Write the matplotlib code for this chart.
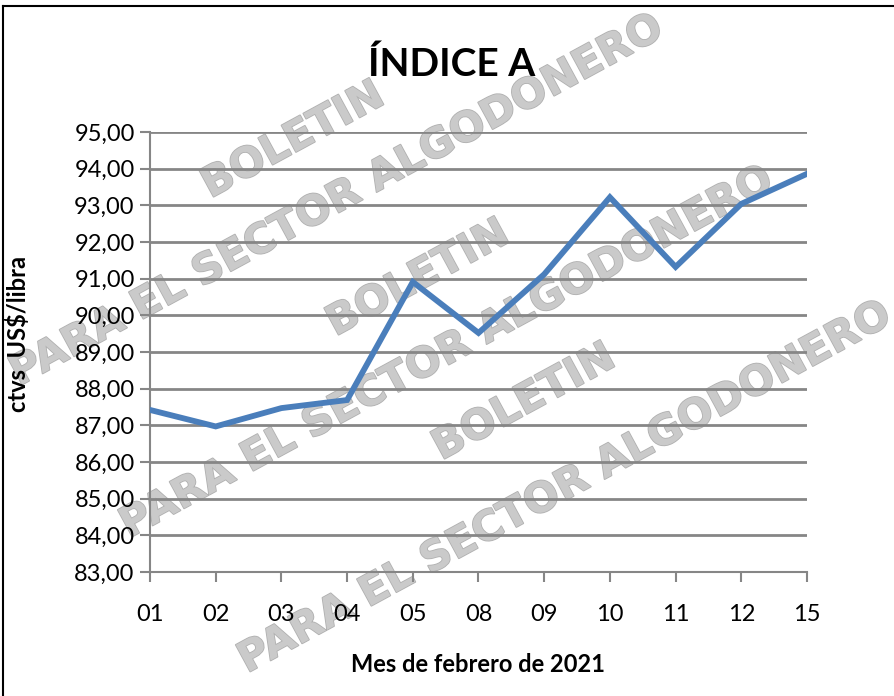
import matplotlib
matplotlib.use("Agg")
import matplotlib.pyplot as plt
from matplotlib.lines import Line2D
import matplotlib.patheffects as pe

plt.rcParams["font.family"] = ["Lato", "DejaVu Sans"]

# datos
dias = ["01", "02", "03", "04", "05", "08", "09", "10", "11", "12", "15"]
indice_a = [87.42, 86.97, 87.47, 87.69, 90.91, 89.52, 91.12, 93.22, 91.32, 93.04, 93.86]
y_ticks = [83, 84, 85, 86, 87, 88, 89, 90, 91, 92, 93, 94, 95]

fig = plt.figure(figsize=(8.95, 6.96), dpi=100, facecolor="white")
ax = fig.add_axes([150 / 895, 1 - 572 / 696, (807 - 150) / 895, (572 - 132) / 696])
ax.set_facecolor("none")

x = list(range(len(dias)))
ax.plot(x, indice_a, color="#4a7ebb", linewidth=4.2, solid_joinstyle="miter", zorder=3)

ax.set_xlim(0, len(dias) - 1)
ax.set_ylim(83, 95)
ax.set_yticks(y_ticks)
ax.set_yticklabels([f"{v:.2f}".replace(".", ",") for v in y_ticks], fontsize=17)
ax.set_xticks(x)
ax.set_xticklabels(dias, fontsize=17)
ax.grid(axis="y", color="#868686", linewidth=2, zorder=1)
ax.set_axisbelow(True)

for s in ["top", "right"]:
    ax.spines[s].set_visible(False)
for s in ["left", "bottom"]:
    ax.spines[s].set_color("#868686")
    ax.spines[s].set_linewidth(1.5)
ax.tick_params(axis="both", color="#868686", width=1.5, length=7, labelcolor="black")
ax.tick_params(axis="x", pad=16)
ax.tick_params(axis="y", pad=4)

ax.set_ylabel("ctvs  US$/libra", fontsize=17, fontweight="bold")
ax.yaxis.set_label_coords(-0.183, 0.54)
ax.set_xlabel("Mes de febrero de 2021", fontsize=17, fontweight="bold", labelpad=20)

fig.text(452 / 895, 1 - 64 / 696, "ÍNDICE A", fontsize=28, fontweight="bold",
         ha="center", va="center")

# marca de agua
wm_kw = dict(fontsize=30, fontweight="bold", color="#cacaca", rotation=28.5,
             ha="center", va="center", family="DejaVu Sans", zorder=-1,
             path_effects=[pe.withStroke(linewidth=1.2, foreground="#b0b0b0")])
for cx, cy in [(293, 140), (418, 278), (524, 402)]:
    fig.text(cx / 895, 1 - cy / 696, "BOLETIN", **wm_kw)
for cx, cy in [(337, 200), (447, 352), (565, 487)]:
    fig.text(cx / 895, 1 - cy / 696, "PARA EL SECTOR ALGODONERO", **wm_kw)

# borde
fig.add_artist(Line2D([3 / 895, 3 / 895], [0, 1 - 6 / 696], transform=fig.transFigure,
                      color="black", linewidth=1.5))
fig.add_artist(Line2D([3 / 895, 1], [1 - 6 / 696, 1 - 6 / 696], transform=fig.transFigure,
                      color="black", linewidth=1.5))

fig.savefig("out.png", dpi=100, facecolor="white")
